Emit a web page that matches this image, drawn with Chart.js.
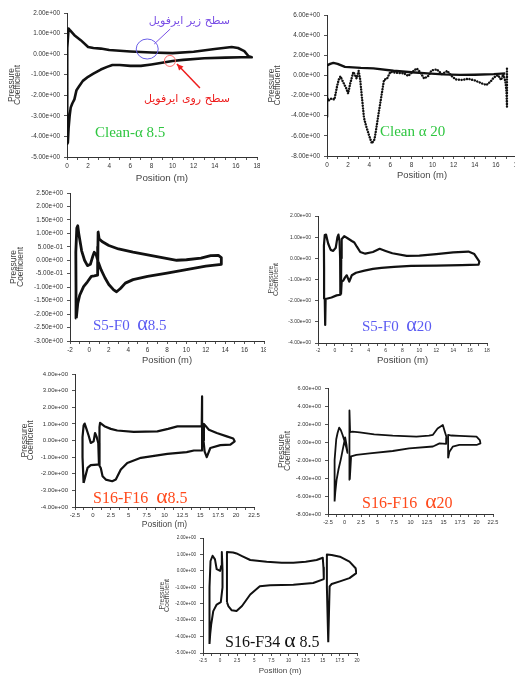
<!DOCTYPE html>
<html>
<head>
<meta charset="utf-8">
<script src="https://cdn.jsdelivr.net/npm/chart.js@4/dist/chart.umd.min.js"></script>
<style>
  html, body { margin: 0; padding: 0; background: #fff; }
  #page { position: relative; width: 515px; height: 675px; overflow: hidden; background: #fff; }
  #page canvas { position: absolute; }
  .lbl { position: absolute; white-space: pre; line-height: 1; font-family: 'Liberation Serif', 'Times New Roman', serif; z-index: 5; }
  .lbl .a { font-size: 1.35em; }
  .fa { position: absolute; white-space: nowrap; line-height: 1; font-family: 'DejaVu Sans', sans-serif; direction: rtl; z-index: 5; }
</style>
</head>
<body>
<div id="page">
  <div class="fa" style="right:285px; top:15px; font-size:11px; color:#7a4fe6;">سطح زیر ایرفویل</div>
  <div class="fa" style="right:285px; top:93px; font-size:11px; color:#ee1d1d;">سطح روی ایرفویل</div>
  <div class="lbl" style="left:95px; top:125px; font-size:15px; color:#2fc640;">Clean-α 8.5</div>
  <div class="lbl" style="left:380px; top:124px; font-size:15px; color:#2fc640;">Clean α 20</div>
  <div class="lbl" style="left:93px; top:313px; font-size:15px; color:#5b5bf2;">S5-F0  <span class="a">α</span>8.5</div>
  <div class="lbl" style="left:362px; top:314px; font-size:15px; color:#5b5bf2;">S5-F0  <span class="a">α</span>20</div>
  <div class="lbl" style="left:93px; top:486px; font-size:16px; color:#ff4a1c;">S16-F16  <span class="a">α</span>8.5</div>
  <div class="lbl" style="left:362px; top:491px; font-size:16px; color:#ff4a1c;">S16-F16  <span class="a">α</span>20</div>
  <div class="lbl" style="left:225px; top:630px; font-size:16px; color:#111;">S16-F34 <span class="a">α</span> 8.5</div>
</div>
<script>
// ---- Pressure coefficient along the chord, position in metres ----

// Clean airfoil, alpha 8.5 (single closed loop)
const cleanA85Pos = [0.0, 0.0, 0.02, 0.05, 0.15, 0.3, 0.7, 1.3, 2.0, 2.5, 3.2, 4.0, 6.0, 8.0, 10.0, 12.0, 14.0, 15.6, 16.2, 16.8, 17.2, 17.5, 16.5, 15.0, 13.0, 11.0, 10.0, 9.0, 8.0, 7.0, 6.0, 5.0, 4.3, 3.8, 3.2, 2.5, 2.0, 1.5, 1.1, 0.9, 0.7, 0.5, 0.35, 0.25, 0.15, 0.08, 0.0];
const cleanA85Cp  = [-4.35, -3.0, -1.0, 0.3, 1.25, 1.15, 0.92, 0.68, 0.35, 0.3, 0.27, 0.2, 0.13, 0.08, 0.05, 0.12, 0.25, 0.35, 0.3, 0.15, -0.1, -0.15, -0.15, -0.17, -0.2, -0.28, -0.33, -0.42, -0.5, -0.57, -0.57, -0.53, -0.53, -0.62, -0.75, -0.95, -1.1, -1.3, -1.6, -1.75, -2.2, -2.4, -2.6, -3.0, -3.6, -4.3, -4.35];

// Clean airfoil, alpha 20: pressure side (continuous) and suction side (sampled points)
const cleanA20PressurePos = [0.0, 0.0, 0.02, 0.3, 0.6, 1.0, 1.7, 3.2, 4.4, 6.3, 8.0, 9.5, 11.0, 12.6, 14.0, 15.8, 16.9];
const cleanA20PressureCp  = [-4.1, -0.5, 1.0, 1.15, 1.25, 1.15, 0.85, 0.75, 0.7, 0.46, 0.32, 0.2, 0.1, 0.05, 0.07, 0.13, 0.2];
const cleanA20SuctionPos = [0.05, 0.15, 0.4, 0.7, 0.95, 1.1, 1.27, 1.5, 1.83, 2.0, 2.2, 2.5, 2.8, 3.0, 3.15, 3.3, 3.4, 3.5, 3.7, 4.0, 4.25, 4.5, 4.65, 4.9, 5.1, 5.3, 5.4, 5.7, 6.0, 6.6, 7.3, 7.7, 8.2, 8.5, 8.8, 9.2, 9.6, 9.9, 10.4, 10.9, 11.4, 11.8, 12.2, 12.8, 13.4, 14.0, 14.7, 15.1, 15.5, 15.8, 16.2, 16.5, 16.7, 16.9, 17.0, 17.05, 17.05];
const cleanA20SuctionCp  = [-2.3, -2.5, -2.3, -2.4, -1.1, -0.45, -0.1, -0.6, -1.3, -1.8, -0.8, 0.35, -0.3, 0.45, -0.45, -2.1, -3.1, -4.2, -5.0, -6.0, -6.75, -6.35, -5.4, -3.7, -2.4, -1.1, -0.45, -0.3, 0.35, 0.26, 0.2, -0.05, 0.45, 0.7, 0.35, -0.3, -0.05, 0.5, 0.6, 0.13, 0.45, -0.05, -0.4, -0.45, -0.33, -0.5, -0.8, -0.95, -0.6, -0.2, 0.03, -0.45, 0.13, -0.6, -1.6, -3.1, 0.7];

// S5-F0, alpha 8.5
const s5f0A85Pos = [-1.35, -1.38, -1.4, -1.3, -1.2, -1.1, -0.8, -0.5, -0.2, 0.1, 0.35, 0.5, 0.7, 0.9, 1.2, 1.6, 2.0, 2.5, 2.8, 3.2, 3.7, 4.5, 6.0, 8.0, 10.0, 12.0, 13.6, 13.6, 13.3, 12.5, 11.5, 10.0, 9.0, 7.5, 6.0, 4.5, 3.0, 2.0, 1.3, 1.0, 0.9, 0.88, 0.85, 0.5, 0.2, -0.2, -0.6, -1.0, -1.2, -1.35];
const s5f0A85Cp  = [-2.15, -1.0, 0.3, 1.2, 1.28, 1.0, 0.35, 0.0, -0.2, -0.15, 0.15, 0.3, 0.2, -0.05, -0.35, -0.65, -0.9, -1.1, -1.17, -1.05, -0.85, -0.72, -0.6, -0.48, -0.35, -0.22, -0.15, 0.1, 0.18, 0.17, 0.08, 0.02, 0.0, 0.1, 0.2, 0.3, 0.42, 0.55, 0.7, 0.8, 1.05, 0.5, -0.55, -0.58, -0.6, -0.8, -0.98, -1.3, -1.6, -2.15];

// S5-F0, alpha 20: slat and main element
const s5f0A20SlatPos = [-1.15, -1.2, -1.28, -1.3, -1.2, -1.05, -0.8, -0.5, -0.2, 0.1, 0.3, 0.42, 0.55, 0.62, 0.65, 0.2, -0.4, -1.1, -1.15];
const s5f0A20SlatCp  = [-3.15, -1.9, -0.5, 0.6, 1.1, 1.12, 0.7, 0.4, 0.35, 0.5, 1.0, 1.12, 0.8, 0.0, -1.72, -1.75, -1.85, -1.92, -3.15];
const s5f0A20MainPos = [0.72, 0.75, 0.8, 1.1, 1.5, 2.0, 2.3, 2.6, 3.0, 3.6, 4.5, 5.3, 6.0, 6.8, 8.5, 10.0, 12.0, 14.0, 15.8, 16.5, 17.1, 17.0, 15.0, 12.0, 9.0, 7.0, 5.5, 4.5, 3.5, 2.5, 2.0, 1.7, 1.4, 1.2, 1.0, 0.8, 0.72];
const s5f0A20MainCp  = [-1.7, 0.0, 0.9, 1.05, 0.95, 0.82, 0.75, 0.55, 0.3, 0.22, 0.3, 0.45, 0.35, 0.24, 0.12, 0.13, 0.2, 0.28, 0.32, 0.2, -0.15, -0.3, -0.32, -0.34, -0.36, -0.4, -0.45, -0.5, -0.58, -0.68, -0.8, -1.1, -0.8, -0.9, -1.05, -1.1, -1.7];

// S16-F16, alpha 8.5: slat, main element, flap
const s16f16A85SlatPos = [-1.3, -1.45, -1.45, -1.3, -1.15, -0.9, -0.6, -0.3, 0.1, 0.3, 0.5, 0.75, 0.85, 0.6, -0.3, -0.75, -1.2, -1.3];
const s16f16A85SlatCp  = [-2.55, -1.0, 0.2, 0.9, 1.02, 0.7, 0.3, -0.15, -0.05, 0.45, 0.25, -0.15, -1.45, -1.45, -1.48, -1.65, -2.4, -2.55];
const s16f16A85MainPos = [0.9, 0.92, 1.0, 1.6, 2.5, 3.4, 5.7, 9.0, 10.5, 11.8, 15.2, 15.25, 15.25, 14.1, 13.1, 10.4, 6.7, 4.8, 3.9, 3.2, 2.7, 1.8, 1.35, 1.1, 0.9];
const s16f16A85MainCp  = [-1.5, 0.8, 1.06, 0.86, 0.7, 0.6, 0.52, 0.55, 0.7, 0.85, 0.85, 2.65, -0.6, -0.6, -0.7, -0.8, -1.04, -1.35, -1.75, -2.35, -2.45, -2.35, -2.15, -1.65, -1.5];
const s16f16A85FlapPos = [15.45, 15.5, 16.2, 17.3, 18.7, 19.6, 19.8, 19.2, 17.8, 16.4, 15.9, 15.6, 15.45];
const s16f16A85FlapCp  = [0.0, 1.0, 0.65, 0.45, 0.25, 0.12, -0.05, -0.25, -0.28, -0.45, -1.0, -0.65, 0.0];

// S16-F16, alpha 20: slat, main element, flap
const s16f16A20SlatPos = [-1.5, -1.55, -1.45, -1.25, -1.05, -0.8, -0.55, -0.3, 0.0, 0.3, 0.45, 0.3, 0.1, -0.2, -0.55, -0.9, -1.2, -1.4, -1.5];
const s16f16A20SlatCp  = [-6.6, -5.0, -2.0, 0.3, 1.0, 1.6, 1.3, 0.8, 0.1, -0.7, -1.2, -0.3, 0.5, -0.6, -1.9, -3.0, -4.2, -5.6, -6.6];
const s16f16A20MainPos = [0.8, 0.75, 0.85, 1.2, 2.3, 4.5, 7.3, 10.9, 12.8, 13.4, 14.1, 14.9, 15.2, 15.5, 15.4, 14.4, 13.4, 9.8, 7.3, 3.8, 1.8, 1.0, 0.8];
const s16f16A20MainCp  = [-4.2, 3.5, 1.1, 1.15, 1.07, 0.85, 0.7, 0.6, 0.7, 0.8, 1.5, 1.9, 1.15, 0.45, -0.2, -0.15, -0.5, -0.7, -1.0, -1.26, -1.44, -1.6, -4.2];
const s16f16A20FlapPos = [15.7, 15.7, 16.2, 17.4, 20.0, 20.5, 20.6, 20.0, 17.4, 16.4, 15.9, 15.7];
const s16f16A20FlapCp  = [-1.8, 0.8, 0.72, 0.67, 0.6, 0.22, -0.15, -0.33, -0.33, -0.52, -1.07, -1.8];

// S16-F34, alpha 8.5: slat, main element, flap
const s16f34SlatPos = [-1.55, -1.6, -1.5, -1.4, -1.1, -0.75, -0.5, 0.0, 0.15, 0.25, 0.35, 0.4, 0.3, 0.1, -0.5, -1.0, -1.3, -1.45, -1.55];
const s16f34SlatCp  = [-4.45, -3.0, -1.0, 0.6, 0.92, 0.7, 0.1, 0.0, 0.3, 1.15, 0.1, -0.3, -1.0, -1.9, -2.05, -2.45, -3.25, -3.85, -4.45];
const s16f34MainPos = [1.0, 1.0, 1.9, 2.4, 3.2, 4.4, 6.8, 9.0, 10.7, 12.5, 14.1, 15.0, 15.1, 15.15, 13.6, 10.7, 7.3, 5.8, 4.4, 3.2, 2.4, 1.7, 1.2, 1.0];
const s16f34MainCp  = [-1.9, 1.15, 1.12, 1.06, 0.9, 0.66, 0.56, 0.5, 0.5, 0.56, 0.66, 0.8, 0.2, -0.5, -0.74, -0.84, -0.88, -0.94, -1.44, -2.14, -2.44, -2.4, -2.14, -1.9];
const s16f34FlapPos = [15.8, 15.6, 15.6, 16.3, 17.5, 18.9, 19.8, 19.9, 18.9, 17.5, 16.3, 16.0, 15.8];
const s16f34FlapCp  = [-4.35, -1.0, 1.0, 0.96, 0.86, 0.56, 0.16, -0.14, -0.44, -0.64, -0.8, -0.94, -4.35];

// Axis ranges: [min, max, labelled step]
const posRange0to18     = [0, 18, 2];
const posRangeM2to18    = [-2, 18, 2];
const posRangeM25to225  = [-2.5, 22.5, 2.5];
const posRangeM25to20   = [-2.5, 20, 2.5];
const cpRangeM5to2      = [-5, 2, 1];
const cpRangeM8to6      = [-8, 6, 2];
const cpRangeM3to25     = [-3, 2.5, 0.5];
const cpRangeM4to2      = [-4, 2, 1];
const cpRangeM4to4      = [-4, 4, 1];

const CP_TITLE = ['Pressure', 'Coefficient'];
const POS_TITLE = 'Position (m)';
const SANS = "'Liberation Sans', Arial, sans-serif";

function toPoints(xs, ys) { return xs.map((x, i) => ({ x: x, y: ys[i] })); }

function sci(v) {
  if (Math.abs(v) < 1e-9) v = 0;
  const parts = v.toExponential(2).split('e');
  const n = parseInt(parts[1], 10);
  return parts[0] + 'e' + (n < 0 ? '-' : '+') + String(Math.abs(n)).padStart(2, '0');
}

function posLabel(v, step) {
  const k = v / step;
  if (Math.abs(k - Math.round(k)) > 1e-6) return '';
  return String(Math.round(v * 10) / 10);
}

// Circles marking the two surfaces on the clean alpha 8.5 plot
const surfaceCallouts = {
  id: 'surfaceCallouts',
  afterDatasetsDraw(chart) {
    const { ctx, scales: { x, y } } = chart;
    const bx = x.getPixelForValue(7.6), by = y.getPixelForValue(0.25);
    const rx = x.getPixelForValue(9.75), ry = y.getPixelForValue(-0.33);
    ctx.save();
    ctx.strokeStyle = '#6a5fe8';
    ctx.lineWidth = 1;
    ctx.beginPath(); ctx.ellipse(bx, by, 11, 10, 0, 0, Math.PI * 2); ctx.stroke();
    ctx.strokeStyle = '#7a4fe6';
    ctx.beginPath(); ctx.moveTo(bx + 7, by - 5); ctx.lineTo(bx + 23, by - 20); ctx.stroke();
    ctx.strokeStyle = '#ff6a6a';
    ctx.beginPath(); ctx.arc(rx, ry, 5.5, 0, Math.PI * 2); ctx.stroke();
    // arrow from the red caption to the circle
    const sx = rx + 30, sy = ry + 27, ex = rx + 7, ey = ry + 3;
    ctx.strokeStyle = '#ee1d1d'; ctx.fillStyle = '#ee1d1d'; ctx.lineWidth = 1.5;
    ctx.beginPath(); ctx.moveTo(sx, sy); ctx.lineTo(ex, ey); ctx.stroke();
    const ang = Math.atan2(ey - sy, ex - sx);
    ctx.beginPath();
    ctx.moveTo(ex, ey);
    ctx.lineTo(ex - 7 * Math.cos(ang - 0.45), ey - 7 * Math.sin(ang - 0.45));
    ctx.lineTo(ex - 7 * Math.cos(ang + 0.45), ey - 7 * Math.sin(ang + 0.45));
    ctx.closePath(); ctx.fill();
    ctx.restore();
  }
};

const panels = [
  { box: [0, 0, 260, 190], yw: 67, xh: 33, padTop: 13, padRight: 3,
    xr: posRange0to18, yr: cpRangeM5to2, tick: 6.4, yt: { size: 8.5, pad: 8.5 }, xt: { size: 9.8, pad: 7.1 },
    series: [{ pos: cleanA85Pos, cp: cleanA85Cp, w: 2.6 }], extra: surfaceCallouts },
  { box: [260, 0, 260, 190], yw: 67, xh: 34, padTop: 15, padRight: 3,
    xr: posRange0to18, yr: cpRangeM8to6, tick: 6.4, yt: { size: 8.5, pad: 8.3 }, xt: { size: 9.4, pad: 9.6 },
    series: [{ pos: cleanA20PressurePos, cp: cleanA20PressureCp, w: 2.4 },
             { pos: cleanA20SuctionPos, cp: cleanA20SuctionCp, w: 2.4, dash: [0.1, 2.6] }] },
  { box: [0, 185, 266, 185], yw: 70, xh: 29, padTop: 8, padRight: 2,
    xr: posRangeM2to18, yr: cpRangeM3to25, tick: 6.4, yt: { size: 8.5, pad: 10.8 }, xt: { size: 9.4, pad: 4.6 },
    series: [{ pos: s5f0A85Pos, cp: s5f0A85Cp, w: 2.8 }] },
  { box: [260, 200, 260, 170], yw: 58, xh: 27, padTop: 16, padRight: 33,
    xr: posRangeM2to18, yr: cpRangeM4to2, tick: 5, yt: { size: 7, pad: 8 }, xt: { size: 9.6, pad: 4.5 },
    series: [{ pos: s5f0A20SlatPos, cp: s5f0A20SlatCp, w: 2.2 }, { pos: s5f0A20MainPos, cp: s5f0A20MainCp, w: 2.2 }] },
  { box: [0, 365, 260, 168], yw: 75, xh: 26, padTop: 9, padRight: 6,
    xr: posRangeM25to225, yr: cpRangeM4to4, tick: 6, yt: { size: 8.5, pad: 21.3 }, xt: { size: 8.5, pad: 3.75 },
    series: [{ pos: s16f16A85SlatPos, cp: s16f16A85SlatCp, w: 2.2 }, { pos: s16f16A85MainPos, cp: s16f16A85MainCp, w: 2.2 },
             { pos: s16f16A85FlapPos, cp: s16f16A85FlapCp, w: 2.2 }] },
  { box: [260, 380, 260, 145], yw: 68, xh: 11, padTop: 8, padRight: 27,
    xr: posRangeM25to225, yr: cpRangeM8to6, tick: 5.6, yt: { size: 8.5, pad: 18.5 }, xt: null,
    series: [{ pos: s16f16A20SlatPos, cp: s16f16A20SlatCp, w: 1.8 }, { pos: s16f16A20MainPos, cp: s16f16A20MainCp, w: 1.8 },
             { pos: s16f16A20FlapPos, cp: s16f16A20FlapCp, w: 1.8 }] },
  { box: [150, 525, 215, 150], yw: 53, xh: 22, padTop: 13, padRight: 8,
    xr: posRangeM25to20, yr: cpRangeM5to2, tick: 4.6, yt: { size: 7, pad: 9 }, xt: { size: 8, pad: 0.3 },
    series: [{ pos: s16f34SlatPos, cp: s16f34SlatCp, w: 2 }, { pos: s16f34MainPos, cp: s16f34MainCp, w: 2 },
             { pos: s16f34FlapPos, cp: s16f34FlapCp, w: 2 }] }
];

const page = document.getElementById('page');

function buildPanel(p) {
  const canvas = document.createElement('canvas');
  canvas.width = p.box[2];
  canvas.height = p.box[3];
  canvas.style.left = p.box[0] + 'px';
  canvas.style.top = p.box[1] + 'px';
  page.appendChild(canvas);

  const gridStyle = { drawOnChartArea: false, drawTicks: true, tickLength: 3, color: '#555', lineWidth: 1 };
  const borderStyle = { display: true, color: '#333', width: 1 };

  new Chart(canvas, {
    type: 'scatter',
    data: {
      datasets: p.series.map(s => ({
        data: toPoints(s.pos, s.cp),
        showLine: true,
        borderColor: '#111',
        backgroundColor: '#111',
        borderWidth: s.w,
        borderDash: s.dash || [],
        borderCapStyle: s.dash ? 'round' : 'butt',
        borderJoinStyle: 'round',
        pointRadius: 0,
        tension: 0,
        fill: false
      }))
    },
    options: {
      responsive: false,
      animation: false,
      events: [],
      devicePixelRatio: 1,
      layout: { padding: { left: 0, top: p.padTop, right: p.padRight, bottom: 0 } },
      plugins: { legend: { display: false }, tooltip: { enabled: false } },
      scales: {
        x: {
          type: 'linear', position: 'bottom',
          min: p.xr[0], max: p.xr[1],
          afterFit(s) { s.height = p.xh; s.paddingLeft = 0; s.paddingRight = 0; },
          ticks: {
            stepSize: p.xr[2] / 2, autoSkip: false, maxRotation: 0, minRotation: 0,
            includeBounds: true, padding: 2, color: '#333',
            font: { family: SANS, size: p.tick },
            callback: v => posLabel(v, p.xr[2])
          },
          grid: gridStyle,
          border: borderStyle,
          title: p.xt ? {
            display: true, text: POS_TITLE, color: '#444',
            font: { family: SANS, size: p.xt.size, lineHeight: 1 },
            padding: { top: 0, bottom: p.xt.pad }
          } : { display: false }
        },
        y: {
          type: 'linear', position: 'left',
          min: p.yr[0], max: p.yr[1],
          afterFit(s) { s.width = p.yw; s.paddingTop = 0; s.paddingBottom = 0; },
          ticks: {
            stepSize: p.yr[2], autoSkip: false, includeBounds: true, padding: 4, color: '#333',
            font: { family: SANS, size: p.tick },
            callback: v => sci(v)
          },
          grid: gridStyle,
          border: borderStyle,
          title: {
            display: true, text: CP_TITLE, color: '#444',
            font: { family: SANS, size: p.yt.size, lineHeight: 0.75 },
            padding: { top: p.yt.pad, bottom: 0 }
          }
        }
      }
    },
    plugins: p.extra ? [p.extra] : []
  });
}

panels.forEach(buildPanel);
</script>
</body>
</html>
